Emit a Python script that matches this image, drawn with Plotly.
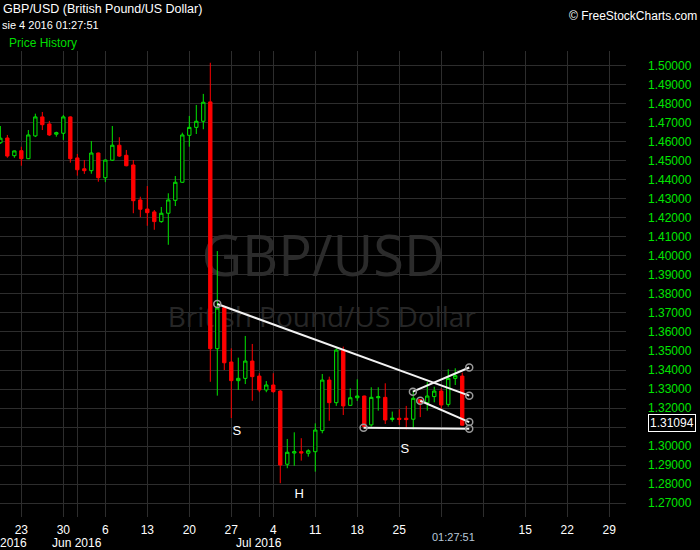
import plotly.graph_objects as go

# ---------------- data ----------------
dates = ["2016-05-19", "2016-05-20", "2016-05-22", "2016-05-23", "2016-05-24", "2016-05-25",
         "2016-05-26", "2016-05-27", "2016-05-29", "2016-05-30", "2016-05-31", "2016-06-01",
         "2016-06-02", "2016-06-03", "2016-06-05", "2016-06-06", "2016-06-07", "2016-06-08",
         "2016-06-09", "2016-06-10", "2016-06-12", "2016-06-13", "2016-06-14", "2016-06-15",
         "2016-06-16", "2016-06-17", "2016-06-19", "2016-06-20", "2016-06-21", "2016-06-22",
         "2016-06-23", "2016-06-24", "2016-06-26", "2016-06-27", "2016-06-28", "2016-06-29",
         "2016-06-30", "2016-07-01", "2016-07-03", "2016-07-04", "2016-07-05", "2016-07-06",
         "2016-07-07", "2016-07-08", "2016-07-10", "2016-07-11", "2016-07-12", "2016-07-13",
         "2016-07-14", "2016-07-15", "2016-07-17", "2016-07-18", "2016-07-19", "2016-07-20",
         "2016-07-21", "2016-07-22", "2016-07-24", "2016-07-25", "2016-07-26", "2016-07-27",
         "2016-07-28", "2016-07-29", "2016-07-31", "2016-08-01", "2016-08-02", "2016-08-03",
         "2016-08-04"]

opens = [1.4596, 1.4621, 1.4528, 1.4554, 1.4512, 1.4632, 1.4732, 1.4695, 1.4641, 1.4646,
         1.4732, 1.4516, 1.4459, 1.4449, 1.4542, 1.4412, 1.4504, 1.4583, 1.4530, 1.4479,
         1.4295, 1.4247, 1.4232, 1.4181, 1.4225, 1.4293, 1.4388, 1.4635, 1.4677, 1.4709,
         1.4811, 1.3512, 1.3728, 1.3442, 1.3344, 1.3356, 1.3447, 1.3368, 1.3295, 1.3321,
         1.3289, 1.2904, 1.2963, 1.2970, 1.2962, 1.2970, 1.3081, 1.3347, 1.3228, 1.3505,
         1.3214, 1.3254, 1.3263, 1.3111, 1.3254, 1.3256, 1.3140, 1.3146, 1.3146, 1.3141,
         1.3245, 1.3228, 1.3260, 1.3289, 1.3219, 1.3356, 1.3368]
highs = [1.4684, 1.4637, 1.4555, 1.4575, 1.4663, 1.4749, 1.4758, 1.4711, 1.4654, 1.4742,
         1.4735, 1.4537, 1.4505, 1.4605, 1.4544, 1.4507, 1.4684, 1.4625, 1.4558, 1.4505,
         1.4312, 1.4368, 1.4242, 1.4258, 1.4330, 1.4421, 1.4649, 1.4737, 1.4795, 1.4853,
         1.5017, 1.4026, 1.3730, 1.3514, 1.3465, 1.3579, 1.3537, 1.3383, 1.3342, 1.3383,
         1.3295, 1.3037, 1.3072, 1.3041, 1.2983, 1.3119, 1.3379, 1.3365, 1.3514, 1.3523,
         1.3303, 1.3351, 1.3265, 1.3309, 1.3309, 1.3330, 1.3181, 1.3193, 1.3211, 1.3290,
         1.3247, 1.3337, 1.3312, 1.3304, 1.3404, 1.3409, 1.3386]
lows = [1.4590, 1.4517, 1.4517, 1.4475, 1.4510, 1.4626, 1.4663, 1.4632, 1.4628, 1.4611,
        1.4491, 1.4423, 1.4432, 1.4433, 1.4391, 1.4389, 1.4500, 1.4521, 1.4472, 1.4225,
        1.4204, 1.4159, 1.4138, 1.4175, 1.4059, 1.4263, 1.4385, 1.4575, 1.4642, 1.4667,
        1.3338, 1.3265, 1.3400, 1.3147, 1.3295, 1.3326, 1.3238, 1.3283, 1.3283, 1.3280,
        1.2804, 1.2883, 1.2896, 1.2923, 1.2944, 1.2865, 1.3067, 1.3133, 1.3211, 1.3163,
        1.3212, 1.3237, 1.3093, 1.3102, 1.3186, 1.3116, 1.3128, 1.3111, 1.3088, 1.3088,
        1.3152, 1.3186, 1.3230, 1.3193, 1.3207, 1.3321, 1.3119]
closes = [1.4620, 1.4526, 1.4553, 1.4512, 1.4637, 1.4732, 1.4691, 1.4637, 1.4649, 1.4732,
          1.4512, 1.4454, 1.4449, 1.4542, 1.4412, 1.4505, 1.4583, 1.4526, 1.4475, 1.4291,
          1.4246, 1.4228, 1.4181, 1.4225, 1.4295, 1.4388, 1.4637, 1.4677, 1.4709, 1.4809,
          1.3512, 1.3726, 1.3438, 1.3344, 1.3356, 1.3447, 1.3365, 1.3295, 1.3321, 1.3286,
          1.2900, 1.2967, 1.2970, 1.2963, 1.2975, 1.3084, 1.3347, 1.3228, 1.3505, 1.3211,
          1.3254, 1.3263, 1.3102, 1.3256, 1.3259, 1.3137, 1.3146, 1.3140, 1.3139, 1.3251,
          1.3226, 1.3263, 1.3289, 1.3216, 1.3356, 1.3370, 1.31094]

# bar index positions (one slot per trading session, Sunday sessions included)
bar_index = list(range(len(dates)))

# x axis ticks (bar index -> day label); month-start gridlines carry no day label
x_tick_index = [0, 3, 9, 11, 15, 21, 27, 33, 37, 39, 45, 51, 57, 63, 69, 75, 81, 87]
x_tick_text = ["", "23", "30", "", "6", "13", "20", "27",
               "", "4", "11", "18", "25", "", "", "15", "22", "29"]

# month labels (bar index of month start -> label)
month_index = [0, 11, 37]
month_text = ["May 2016", "Jun 2016", "Jul 2016"]

# y axis ticks
y_tick_vals = [1.27, 1.28, 1.29, 1.30, 1.31, 1.32, 1.33, 1.34, 1.35, 1.36, 1.37, 1.38,
               1.39, 1.40, 1.41, 1.42, 1.43, 1.44, 1.45, 1.46, 1.47, 1.48, 1.49, 1.50]
y_tick_text = ["1.27000", "1.28000", "1.29000", "1.30000", "", "1.32000", "1.33000",
               "1.34000", "1.35000", "1.36000", "1.37000", "1.38000", "1.39000", "1.40000",
               "1.41000", "1.42000", "1.43000", "1.44000", "1.45000", "1.46000", "1.47000",
               "1.48000", "1.49000", "1.50000"]

# drawn trend lines (bar index, price)
trend1_x = [31, 67];     trend1_y = [1.3747, 1.3265]
trend2_x = [51.9, 67];   trend2_y = [1.3096, 1.3091]
trend3_x = [58.95, 67];  trend3_y = [1.3286, 1.3413]
trend4_x = [60, 67];     trend4_y = [1.3238, 1.3126]

# pattern labels
pattern_text = ["S", "H", "S"]
pattern_x = [33.8, 42.7, 57.8]
pattern_y = [1.3074, 1.2742, 1.2979]

last_price = 1.31094

GREEN = "#00e600"
RED = "#ff0000"
GRID = "#2d2d2d"
FONT = "Liberation Sans"

fig = go.Figure()

fig.add_trace(go.Candlestick(
    x=bar_index, open=opens, high=highs, low=lows, close=closes,
    increasing=dict(line=dict(color=GREEN, width=1), fillcolor="black"),
    decreasing=dict(line=dict(color=RED, width=1), fillcolor=RED),
    whiskerwidth=0, hoverinfo="skip", showlegend=False,
))

for tx, ty in [(trend1_x, trend1_y), (trend2_x, trend2_y),
               (trend3_x, trend3_y), (trend4_x, trend4_y)]:
    fig.add_trace(go.Scatter(
        x=tx, y=ty, mode="lines+markers",
        line=dict(color="#f2f2f2", width=2),
        marker=dict(symbol="circle", size=7, color="rgba(0,0,0,0)",
                    line=dict(color="#9a9a9a", width=1.5)),
        hoverinfo="skip", showlegend=False,
    ))

fig.add_trace(go.Scatter(
    x=pattern_x, y=pattern_y, mode="text", text=pattern_text,
    textfont=dict(color="white", size=13, family=FONT),
    hoverinfo="skip", showlegend=False,
))

fig.update_layout(
    width=700, height=550,
    margin=dict(l=0, r=74, t=51, b=33, autoexpand=False),
    paper_bgcolor="black", plot_bgcolor="black",
    font=dict(family=FONT, color="white", size=12),
    boxgap=0.32,
    showlegend=False,
    xaxis=dict(
        range=[-0.05, 89.4], rangeslider=dict(visible=False),
        tickmode="array", tickvals=x_tick_index, ticktext=x_tick_text, tickangle=0,
        showgrid=True, gridcolor=GRID, gridwidth=1, zeroline=False, showline=False,
        ticks="", tickfont=dict(color="white", size=12, family=FONT),
        ticklabeloverflow="allow", ticklabelstandoff=4, automargin=False,
    ),
    yaxis=dict(
        side="right", range=[1.26263, 1.50789],
        tickmode="array", tickvals=y_tick_vals, ticktext=y_tick_text,
        showgrid=True, gridcolor=GRID, gridwidth=1, zeroline=False, showline=False,
        ticks="", tickfont=dict(color=GREEN, size=12, family=FONT),
        ticklabelstandoff=21, automargin=False,
    ),
)

# month labels under the day labels
for mi, mt in zip(month_index, month_text):
    fig.add_annotation(xref="x", yref="paper", x=mi, y=0, xanchor="center", yanchor="middle",
                       yshift=-26, showarrow=False, text=mt,
                       font=dict(color="white", size=12, family=FONT))

# watermark (below the candles)
fig.add_shape(type="rect", xref="paper", yref="paper", x0=0.216, x1=0.816, y0=0.50, y1=0.61,
              line=dict(width=0), fillcolor="rgba(0,0,0,0)", layer="below",
              label=dict(text="GBP/USD", textposition="middle center",
                         font=dict(size=56, color="#2b2b2b", family="Open Sans")))
fig.add_shape(type="rect", xref="paper", yref="paper", x0=0.164, x1=0.864, y0=0.397, y1=0.457,
              line=dict(width=0), fillcolor="rgba(0,0,0,0)", layer="below",
              label=dict(text="British Pound/US Dollar", textposition="middle center",
                         font=dict(size=28, color="#262626", family="Open Sans")))

# header texts
fig.add_annotation(xref="paper", yref="paper", x=0, y=1, xanchor="left", yanchor="middle",
                   xshift=1, yshift=42, showarrow=False,
                   text="GBP/USD (British Pound/US Dollar)",
                   font=dict(color="white", size=12.5, family=FONT))
fig.add_annotation(xref="paper", yref="paper", x=0, y=1, xanchor="left", yanchor="middle",
                   xshift=0, yshift=26, showarrow=False,
                   text="sie 4 2016 01:27:51",
                   font=dict(color="white", size=11, family=FONT))
fig.add_annotation(xref="paper", yref="paper", x=0, y=1, xanchor="left", yanchor="middle",
                   xshift=7, yshift=8, showarrow=False,
                   text="Price History",
                   font=dict(color="#00dd00", size=12, family=FONT))
fig.add_annotation(xref="paper", yref="paper", x=1, y=1, xanchor="right", yanchor="middle",
                   xshift=73, yshift=35, showarrow=False,
                   text="© FreeStockCharts.com",
                   font=dict(color="white", size=12, family=FONT))

# current price box
fig.add_annotation(xref="paper", yref="y", x=1, y=last_price, xanchor="left", yanchor="middle",
                   xshift=22, yshift=2, showarrow=False, text=f"{last_price:.5f}",
                   bgcolor="black", bordercolor="white", borderwidth=1, borderpad=1,
                   font=dict(color="white", size=12, family=FONT))

# time stamp on the x axis
fig.add_annotation(xref="paper", yref="paper", x=453 / 626, y=0, xanchor="center",
                   yanchor="middle", yshift=-20, showarrow=False, text="01:27:51",
                   font=dict(color="#b8c8d8", size=11, family=FONT))

fig.write_html("out.html", config={"displayModeBar": False},
               post_script="document.body.style.margin='0';"
                           "document.body.style.background='black';")
